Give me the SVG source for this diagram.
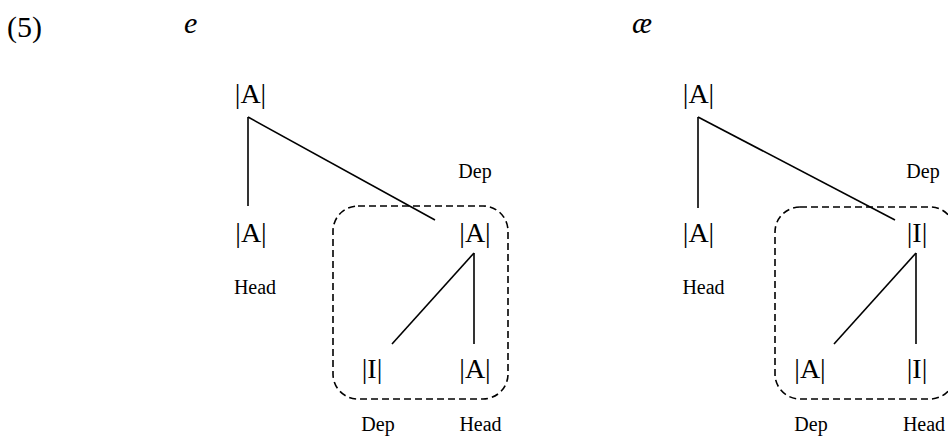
<svg xmlns="http://www.w3.org/2000/svg" width="948" height="439" viewBox="0 0 948 439">
<style>
text{font-family:"Liberation Serif","Times New Roman",serif;fill:#000}
.n{font-size:28px;text-anchor:middle}
.l{font-size:20px;text-anchor:middle}
.t{font-size:30px}
.ln{stroke:#000;stroke-width:1.6;fill:none}
.box{stroke:#000;stroke-width:1.6;fill:none;stroke-dasharray:7 4}
</style>
<rect width="948" height="439" fill="#fff"/>
<text class="t" x="7" y="37" font-size="32">(5)</text>
<text class="t" x="184" y="33" font-style="italic">e</text>
<text class="t" x="632" y="33" font-style="italic">æ</text>

<g id="connectors">
  <line class="ln" x1="248" y1="117" x2="248" y2="206"/>
  <line class="ln" x1="248" y1="117" x2="435" y2="220"/>
  <line class="ln" x1="474" y1="253" x2="474" y2="344"/>
  <line class="ln" x1="474" y1="253" x2="392" y2="344"/>
  <line class="ln" x1="698" y1="117" x2="698" y2="208"/>
  <line class="ln" x1="698" y1="117" x2="895" y2="220"/>
  <line class="ln" x1="916" y1="253" x2="916" y2="344"/>
  <line class="ln" x1="916" y1="253" x2="834" y2="344"/>
</g>

<g id="boxL"><rect class="box" x="333" y="206" width="175" height="193" rx="25" ry="25"/></g>
<g id="boxR"><rect class="box" x="775" y="207" width="180" height="192" rx="25" ry="25"/></g>

<g id="L_top"><text class="n" x="250.5" y="103">|A|</text></g>
<g id="L_head"><text class="n" x="251" y="242">|A|</text><text class="l" x="255" y="294">Head</text></g>
<g id="L_dep"><text class="n" x="475" y="242">|A|</text><text class="l" x="475" y="178">Dep</text></g>
<g id="L_dep_dep"><text class="n" x="372" y="378">|I|</text><text class="l" x="378" y="431">Dep</text></g>
<g id="L_dep_head"><text class="n" x="475" y="378">|A|</text><text class="l" x="480.5" y="431">Head</text></g>

<g id="R_top"><text class="n" x="698.5" y="103">|A|</text></g>
<g id="R_head"><text class="n" x="698.5" y="242">|A|</text><text class="l" x="703.5" y="294">Head</text></g>
<g id="R_dep"><text class="n" x="917" y="242">|I|</text><text class="l" x="923" y="178">Dep</text></g>
<g id="R_dep_dep"><text class="n" x="810" y="378">|A|</text><text class="l" x="811" y="431">Dep</text></g>
<g id="R_dep_head"><text class="n" x="917" y="378">|I|</text><text class="l" x="924" y="431">Head</text></g>
</svg>
